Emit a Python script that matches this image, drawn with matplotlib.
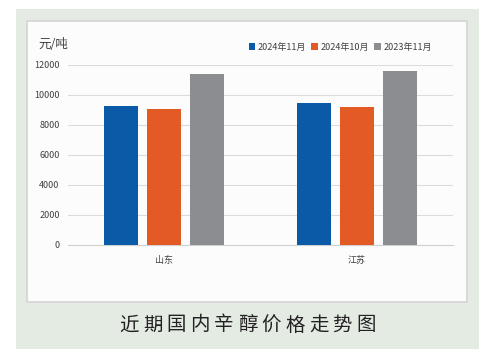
import matplotlib
matplotlib.use("Agg")
import matplotlib.pyplot as plt
import numpy as np
from matplotlib.patches import Rectangle

plt.rcParams['font.family'] = ['Noto Sans CJK SC', 'DejaVu Sans']

regions = ["山东", "江苏"]
series = ["2024年11月", "2024年10月", "2023年11月"]
nov_2024 = [9300, 9450]
oct_2024 = [9100, 9200]
nov_2023 = [11400, 11600]
yticks = [0, 2000, 4000, 6000, 8000, 10000, 12000]
unit = "元/吨"
title = "近期国内辛醇价格走势图"

colors = ["#0a5aa8", "#e35a25", "#8b8d90"]

W, H = 484, 356
fig = plt.figure(figsize=(W / 100, H / 100), dpi=100)
fig.patch.set_facecolor("white")

# green card and white chart panel
fig.patches.append(Rectangle((16 / W, 1 - 349 / H), 463 / W, 340 / H,
                             transform=fig.transFigure, facecolor="#e4ebe3",
                             edgecolor="none", zorder=-2))
fig.patches.append(Rectangle((27 / W, 1 - 302 / H), 440 / W, 281 / H,
                             transform=fig.transFigure, facecolor="#fcfcfc",
                             edgecolor="#d4d4d4", linewidth=1.2, zorder=-1))

ax = fig.add_axes([68 / W, 1 - 245 / H, 385 / W, 180 / H])
ax.set_zorder(2)
ax.set_facecolor("none")

x = np.arange(len(regions))
width = 0.177
step = 0.223
for i, (vals, name) in enumerate(zip([nov_2024, oct_2024, nov_2023], series)):
    ax.bar(x + (i - 1) * step, vals, width, color=colors[i], label=name,
           zorder=3)

ax.set_xlim(-0.5, 1.5)
ax.set_ylim(0, 12000)
ax.set_yticks(yticks)
ax.set_yticklabels([str(t) for t in yticks], fontsize=6.5, color="#404040")
ax.set_xticks(x)
ax.set_xticklabels(regions, fontsize=6.5, color="#404040")
ax.tick_params(length=0, pad=6)
ax.tick_params(axis="x", pad=8)
ax.grid(axis="y", color="#dcdcdc", linewidth=0.8, zorder=0)
for s in ["top", "right", "left"]:
    ax.spines[s].set_visible(False)
ax.spines["bottom"].set_color("#d0d0d0")

fig.text(38 / W, 1 - 45 / H, unit, fontsize=9, color="#404040",
         ha="left", va="center")

ax.legend(loc="center right", bbox_to_anchor=(440 / W, 1 - 47 / H),
          bbox_transform=fig.transFigure, ncol=3, frameon=False,
          fontsize=6.5, handlelength=0.7, handleheight=0.7,
          handletextpad=0.3, columnspacing=0.6, labelcolor="#404040")

# title with wide letter spacing
tx0, tstep = 129, 23.7
for k, ch in enumerate(title):
    fig.text((tx0 + k * tstep) / W, 1 - 325 / H, ch, fontsize=14,
             color="#222222", ha="center", va="center")

fig.savefig("out.png", dpi=100, facecolor=fig.get_facecolor())
